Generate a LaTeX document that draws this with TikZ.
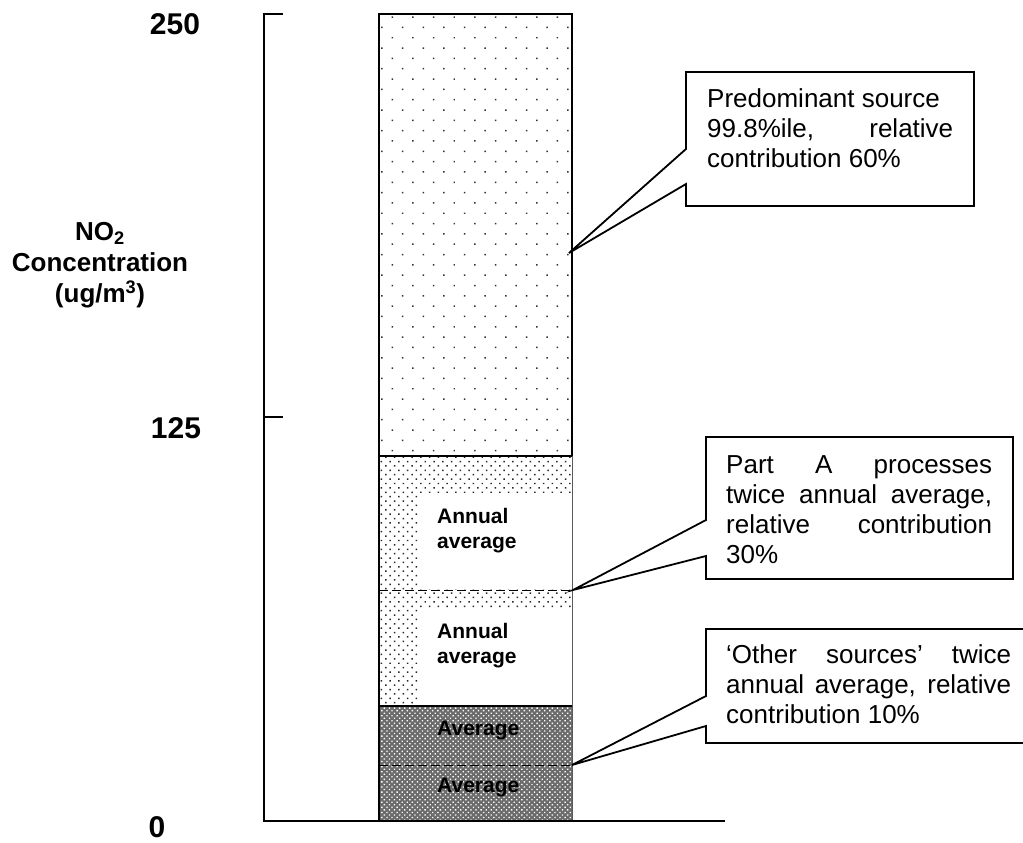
\documentclass[tikz,border=0pt]{standalone}
\usepackage{fontspec}
\setmainfont{Liberation Sans}
\usetikzlibrary{patterns.meta}
\begin{document}
\begin{tikzpicture}[x=1pt,y=-1pt,
  axisline/.style={line width=2pt},
  barline/.style={line width=2pt},
  edgeline/.style={line width=0.8pt, black!65},
  dashsep/.style={line width=1pt, dash pattern=on 9pt off 4pt},
  calloutline/.style={line width=1.8pt, line join=miter},
  boxframe/.style={inner sep=0pt, outer sep=0pt, anchor=north west},
  calltext/.style={inner sep=0pt, anchor=north west, align=left,
    font=\fontsize{26}{30}\selectfont},
  axislabel/.style={inner sep=0pt, anchor=base,
    font=\bfseries\fontsize{30}{36}\selectfont},
  quantity/.style={inner sep=0pt, anchor=north, align=center,
    font=\bfseries\fontsize{26}{31}\selectfont},
  barlabel/.style={inner sep=0pt, align=left,
    font=\bfseries\fontsize{21}{25}\selectfont},
  sparsedots/.style={pattern={Dots[distance=14.6pt, radius=1.05pt, angle=45]},
    pattern color=black!80},
  densedots/.style={pattern={Dots[distance=6.2pt, radius=1.05pt, angle=45]},
    pattern color=black!85},
  crossdots/.style={pattern={Dots[distance=3.6pt, radius=0.95pt, angle=45]},
    pattern color=white}
]
\useasboundingbox (0,0) rectangle (1023,843);

% ---- stacked column ----
% 99.8 percentile of the predominant source
\fill[sparsedots] (379,14) rectangle (572,456);
% Part A processes: twice the annual average
\fill[densedots] (379,456) rectangle (572,706);
\fill[white] (418,493) rectangle (572,589);
\fill[white] (418,608) rectangle (572,706);
% other sources: twice the average
\fill[black!58] (379,706) rectangle (572,821);
\fill[crossdots] (379,706) rectangle (572,821);

\draw[edgeline] (572,456) -- (572,821);
\draw[barline] (379,821) -- (379,14) -- (572,14) -- (572,456);
\draw[barline] (379,456) -- (572,456);
\draw[barline] (379,706) -- (572,706);
\draw[dashsep] (379,590) -- (572,590);
\draw[dashsep] (379,765) -- (572,765);

\node[barlabel, anchor=north west] (aa1) at (437,505.5) {\strut Annual\\average};
\node[barlabel, anchor=north west] (aa2) at (437,620.5) {\strut Annual\\average};
\node[barlabel, anchor=base west] (av1) at (437,735) {Average};
\node[barlabel, anchor=base west] (av2) at (437,792) {Average};

% ---- axis ----
\draw[axisline] (283,14) -- (264,14) -- (264,821) -- (725,821);
\draw[axisline] (264,417) -- (283,417);
\node[axislabel] (v250) at (175,35) {250};
\node[axislabel] (v125) at (176,438) {125};
\node[axislabel] (v0) at (157,837) {0};
\node[quantity] (qty) at (100,218.3)
  {\strut NO\textsubscript{2}\\Concentration\\(ug/m\textsuperscript{3})};

% ---- callouts ----
\coordinate (p1) at (569,253);
\coordinate (p2) at (573,590);
\coordinate (p3) at (572,765);

\node[boxframe, minimum width=288, minimum height=134] (b1) at (686,72) {};
\node[boxframe, minimum width=307, minimum height=142] (b2) at (706,437) {};
\node[boxframe, minimum width=330, minimum height=114] (b3) at (706,629) {};

\draw[calloutline] (p1) -- (b1.west |- 0,149) -- (b1.north west) -- (b1.north east)
  -- (b1.south east) -- (b1.south west) -- (b1.west |- 0,184) -- cycle;
\draw[calloutline] (p2) -- (b2.west |- 0,520) -- (b2.north west) -- (b2.north east)
  -- (b2.south east) -- (b2.south west) -- (b2.west |- 0,556) -- cycle;
\draw[calloutline] (p3) -- (b3.west |- 0,696) -- (b3.north west) -- (b3.north east)
  -- (b3.south east) -- (b3.south west) -- (b3.west |- 0,726) -- cycle;

\node[calltext] (t1) at (707,86)
  {\strut Predominant source\\
   \makebox[246pt][s]{99.8\%ile, relative}\\
   contribution 60\%};
\node[calltext] (t2) at (726,452)
  {\strut\makebox[266pt][s]{Part A processes}\\
   \makebox[266pt][s]{twice annual average,}\\
   \makebox[266pt][s]{relative contribution}\\
   30\%};
\node[calltext] (t3) at (726,642)
  {\strut\makebox[285pt][s]{‘Other sources’ twice}\\
   \makebox[285pt][s]{annual average, relative}\\
   contribution 10\%};
\end{tikzpicture}
\end{document}
